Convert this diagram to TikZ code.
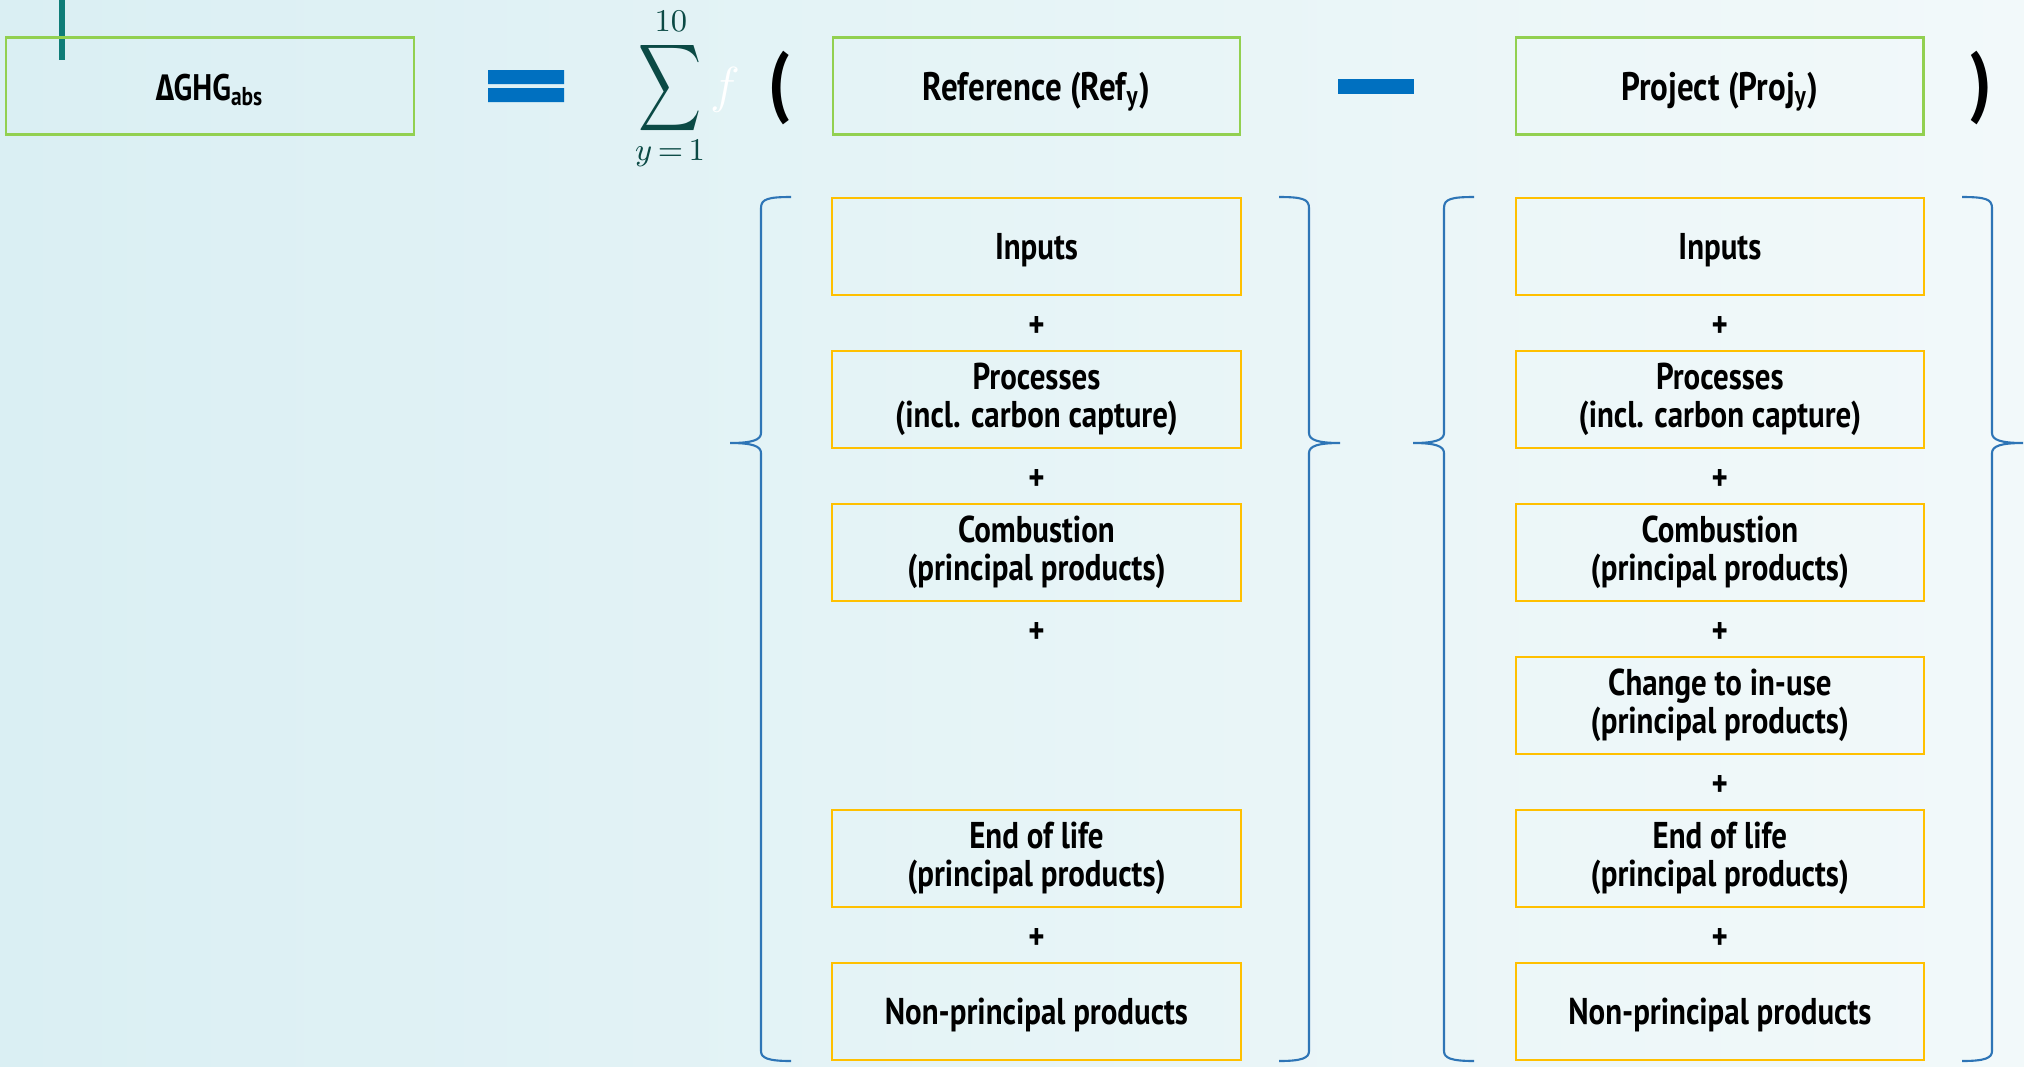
\documentclass[tikz,border=0pt]{standalone}
\usepackage{amsmath}
\usepackage{graphicx}
\usepackage{fontspec}
\setmainfont{PT Sans}[FakeStretch=0.83]
\newfontfamily\deltafont{Fira Sans}[FakeStretch=0.8]
\usetikzlibrary{positioning,calc}
\definecolor{ecgreen}{HTML}{92D050}
\definecolor{ecyellow}{HTML}{FFC000}
\definecolor{ecblue}{HTML}{0070C0}
\definecolor{bracecol}{HTML}{2E75B6}
\definecolor{sigmacol}{HTML}{0B4A45}
\definecolor{tealbar}{HTML}{0E7C77}
\definecolor{bgleft}{HTML}{DAEFF3}
\definecolor{bgright}{HTML}{F2F9FA}

\begin{document}
\begin{tikzpicture}[x=0.01cm,y=-0.01cm,font=\bfseries\fontsize{10.6}{10.8}\selectfont]
  \tikzstyle{topbox}=[draw=ecgreen,line width=0.6pt,minimum width=4.07cm,minimum height=0.97cm,inner sep=0pt,outer sep=0pt,align=center,text height=9pt,text depth=1pt,font=\bfseries\fontsize{11.3}{12}\selectfont]
  \tikzstyle{box}=[draw=ecyellow,line width=0.6pt,minimum width=4.08cm,minimum height=0.97cm,inner sep=0pt,outer sep=0pt,align=center]
  \tikzstyle{onebox}=[box,text depth=0pt]
  \tikzstyle{plus}=[inner sep=0pt,yshift=-1.1pt]
  \tikzstyle{brace}=[draw=bracecol,line width=0.6pt]
  \useasboundingbox (0,0) rectangle (2024,1066);
  \shade[left color=bgleft,right color=bgright] (0,0) rectangle (2024,1066);
  \fill[tealbar] (59,0) rectangle (65,60);
  % top line of the equation
  \node[topbox,font=\bfseries\fontsize{10.5}{11}\selectfont] (dghg) at (210,86) {{\deltafont Δ}GHG\textsubscript{abs}};
  \node[topbox,right=4.19cm of dghg] (ref) {Reference (Ref\textsubscript{y})};
  \node[topbox,right=2.76cm of ref] (proj) {Project (Proj\textsubscript{y})};
  \fill[ecblue] (488,70) rectangle (564,84) (488,88) rectangle (564,102);
  \fill[ecblue] (1338,79) rectangle (1414,94);
  \node[text=sigmacol,inner sep=0pt] (sig) at (670,88) {\scalebox{0.72}[1]{\fontsize{18.5}{20}\selectfont$\displaystyle\sum$}};
  \node[text=sigmacol,inner sep=0pt,font=\fontsize{9}{9}\selectfont] (sigtop) at (671,21) {$10$};
  \node[text=sigmacol,inner sep=0pt,font=\fontsize{9}{9}\selectfont] (sigbot) at (670,153) {$y\,{=}\,1$};
  \node[text=white,inner sep=0pt,font=\fontsize{14}{14}\selectfont] (fn) at (725,90) {$f$};
  \node[inner sep=0pt,font=\bfseries\fontsize{22.5}{22.5}\selectfont] (lpar) at (779,88) {(};
  \node[inner sep=0pt,font=\bfseries\fontsize{22.5}{22.5}\selectfont] (rpar) at (1981,88) {)};
  % reference column
  \node[onebox,below=0.63cm of ref] (rin) {Inputs};
  \node[box,below=0.56cm of rin] (rproc) {Processes\\(incl. carbon capture)};
  \node[box,below=0.56cm of rproc] (rcomb) {Combustion\\(principal products)};
  \node[box,below=2.09cm of rcomb] (reol) {End of life\\(principal products)};
  \node[onebox,below=0.56cm of reol] (rnon) {Non-principal products};
  % project column
  \node[onebox,below=0.63cm of proj] (pin) {Inputs};
  \node[box,below=0.56cm of pin] (pproc) {Processes\\(incl. carbon capture)};
  \node[box,below=0.56cm of pproc] (pcomb) {Combustion\\(principal products)};
  \node[box,below=0.56cm of pcomb] (pchg) {Change to in-use\\(principal products)};
  \node[box,below=0.56cm of pchg] (peol) {End of life\\(principal products)};
  \node[onebox,below=0.56cm of peol] (pnon) {Non-principal products};
  \coordinate (g1) at ($(pin.south)!0.5!(pproc.north)$);
  \coordinate (g2) at ($(pproc.south)!0.5!(pcomb.north)$);
  \coordinate (g3) at ($(pcomb.south)!0.5!(pchg.north)$);
  \coordinate (g4) at ($(pchg.south)!0.5!(peol.north)$);
  \coordinate (g5) at ($(peol.south)!0.5!(pnon.north)$);
  \node[plus] (pp1) at (g1) {+};
  \node[plus] (pp2) at (g2) {+};
  \node[plus] (pp3) at (g3) {+};
  \node[plus] (pp4) at (g4) {+};
  \node[plus] (pp5) at (g5) {+};
  \node[plus] (rp1) at (g1 -| rin) {+};
  \node[plus] (rp2) at (g2 -| rin) {+};
  \node[plus] (rp3) at (g3 -| rin) {+};
  \node[plus] (rp4) at (g5 -| rin) {+};
  % braces
  \draw[brace] (791,197) .. controls (768,197) and (761,199) .. (761,208) -- (761,433) .. controls (761,440) and (752,443) .. (730,443) .. controls (752,443) and (761,446) .. (761,453) -- (761,1051) .. controls (761,1058) and (768,1061) .. (791,1061);
  \draw[brace] (1279,197) .. controls (1302,197) and (1309,199) .. (1309,208) -- (1309,433) .. controls (1309,440) and (1318,443) .. (1340,443) .. controls (1318,443) and (1309,446) .. (1309,453) -- (1309,1051) .. controls (1309,1058) and (1302,1061) .. (1279,1061);
  \draw[brace] (1474,197) .. controls (1451,197) and (1444,199) .. (1444,208) -- (1444,433) .. controls (1444,440) and (1435,443) .. (1413,443) .. controls (1435,443) and (1444,446) .. (1444,453) -- (1444,1051) .. controls (1444,1058) and (1451,1061) .. (1474,1061);
  \draw[brace] (1962,197) .. controls (1985,197) and (1992,199) .. (1992,208) -- (1992,433) .. controls (1992,440) and (2001,443) .. (2023,443) .. controls (2001,443) and (1992,446) .. (1992,453) -- (1992,1051) .. controls (1992,1058) and (1985,1061) .. (1962,1061);
\end{tikzpicture}
\end{document}
